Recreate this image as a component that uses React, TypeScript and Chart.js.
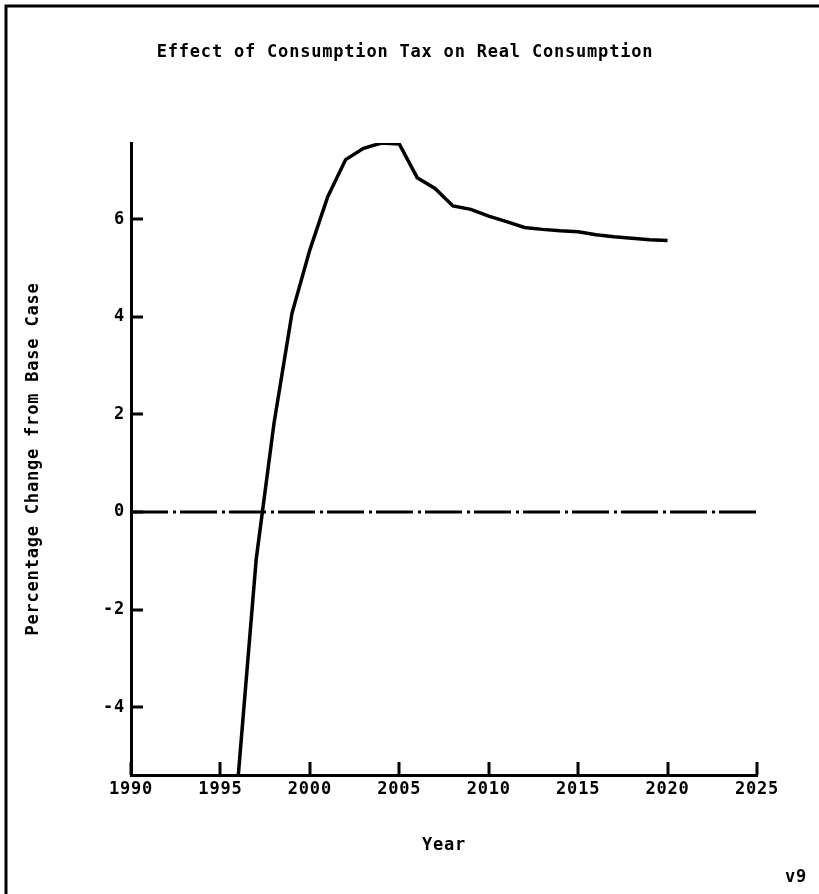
import { useEffect, useRef } from "react";
import { Chart, registerables } from "chart.js";

Chart.register(...registerables);

// Simulated path of real consumption, percent change from the base case
const years = [
  1996, 1997, 1998, 1999, 2000, 2001, 2002, 2003, 2004, 2005, 2006, 2007, 2008,
  2009, 2010, 2011, 2012, 2013, 2014, 2015, 2016, 2017, 2018, 2019, 2020,
];
const consumptionChange = [
  -5.39, -0.97, 1.83, 4.07, 5.37, 6.46, 7.22, 7.45, 7.56, 7.54, 6.85, 6.63, 6.27,
  6.2, 6.06, 5.95, 5.83, 5.79, 5.76, 5.74, 5.68, 5.64, 5.61, 5.58, 5.56,
];

// Reference line at zero across the full year range
const baselineYears = [1990, 2025];
const baselineValues = [0, 0];

const xTicks = [1990, 1995, 2000, 2005, 2010, 2015, 2020, 2025];
const yTicks = [-4, -2, 0, 2, 4, 6];

const titleText = "Effect of Consumption Tax on Real Consumption";
const xTitle = "Year";
const yTitle = "Percentage Change from Base Case";
const versionTag = "v9";

const FAMILY = "'DejaVu Sans Mono', 'Liberation Mono', monospace";
const SPACING = "0.8px";
const textFont = { family: FAMILY, size: 17, weight: "bold" as const };

// Wide plotter-style lettering
const spacingPlugin = {
  id: "letterSpacing",
  beforeLayout(chart: Chart) {
    (chart.ctx as any).letterSpacing = SPACING;
  },
  beforeDraw(chart: Chart) {
    (chart.ctx as any).letterSpacing = SPACING;
  },
};

// Inward tick marks, page frame and version tag
const decorPlugin = {
  id: "decor",
  afterDraw(chart: Chart) {
    const { ctx, chartArea } = chart;
    const x = chart.scales.x;
    const y = chart.scales.y;
    ctx.save();
    ctx.strokeStyle = "#000";
    ctx.lineCap = "butt";
    ctx.lineWidth = 3;
    for (const t of y.ticks) {
      const py = Math.round(y.getPixelForValue(t.value));
      ctx.beginPath();
      ctx.moveTo(chartArea.left, py);
      ctx.lineTo(chartArea.left + 12, py);
      ctx.stroke();
    }
    for (const t of x.ticks) {
      const px = Math.round(x.getPixelForValue(t.value));
      ctx.beginPath();
      ctx.moveTo(px, chartArea.bottom);
      ctx.lineTo(px, chartArea.bottom - 13);
      ctx.stroke();
    }
    // frame along the top and left page edges
    ctx.beginPath();
    ctx.moveTo(6, chart.height);
    ctx.lineTo(6, 6);
    ctx.lineTo(chart.width, 6);
    ctx.stroke();

    ctx.fillStyle = "#000";
    (ctx as any).letterSpacing = SPACING;
    ctx.font = `bold 17px ${FAMILY}`;
    ctx.textAlign = "right";
    ctx.textBaseline = "middle";
    ctx.fillText(versionTag, 807, 878);
    ctx.restore();
  },
};

export default function App() {
  const canvasRef = useRef<HTMLCanvasElement | null>(null);

  useEffect(() => {
    const canvas = canvasRef.current;
    if (!canvas) return;

    const chart = new Chart(canvas, {
      type: "line",
      data: {
        datasets: [
          {
            label: "Real consumption",
            data: years.map((yr, i) => ({ x: yr, y: consumptionChange[i] })),
            borderColor: "#000",
            borderWidth: 3.5,
            pointRadius: 0,
            tension: 0,
            fill: false,
          },
          {
            label: "Base case",
            data: baselineYears.map((yr, i) => ({ x: yr, y: baselineValues[i] })),
            borderColor: "#000",
            borderWidth: 3,
            borderDash: [37, 5, 3, 4],
            borderCapStyle: "butt",
            pointRadius: 0,
            fill: false,
          },
        ],
      },
      options: {
        responsive: false,
        animation: false,
        events: [],
        layout: { padding: { left: 0, right: 9, top: 0, bottom: 0 } },
        plugins: {
          legend: { display: false },
          tooltip: { enabled: false },
          title: {
            display: true,
            text: titleText,
            color: "#000",
            font: textFont,
            padding: { top: 42.8, bottom: 79.8 },
          },
        },
        scales: {
          x: {
            type: "linear",
            min: xTicks[0],
            max: xTicks[xTicks.length - 1],
            afterBuildTicks: (s: any) => {
              s.ticks = xTicks.map((v) => ({ value: v }));
            },
            afterFit: (s: any) => {
              s.height = 119;
            },
            grid: { display: false, drawTicks: false },
            border: { display: true, color: "#000", width: 3 },
            ticks: {
              color: "#000",
              font: textFont,
              padding: 4,
              maxRotation: 0,
              autoSkip: false,
              callback: (v: any) => String(v),
            },
            title: {
              display: true,
              text: xTitle,
              color: "#000",
              font: textFont,
              padding: { top: 0, bottom: 37.8 },
            },
          },
          y: {
            type: "linear",
            position: "left",
            min: Math.min(...consumptionChange),
            max: Math.max(...consumptionChange),
            afterBuildTicks: (s: any) => {
              s.ticks = yTicks.map((v) => ({ value: v }));
            },
            afterFit: (s: any) => {
              s.width = 131;
            },
            grid: { display: false, drawTicks: false },
            border: { display: true, color: "#000", width: 3 },
            ticks: {
              color: "#000",
              font: textFont,
              padding: 6,
              autoSkip: false,
              callback: (v: any) => String(v),
            },
            title: {
              display: true,
              text: yTitle,
              color: "#000",
              font: textFont,
              padding: { top: 23.8, bottom: 0 },
            },
          },
          // empty margin box on the right of the plot
          edge: {
            type: "linear",
            position: "right",
            display: true,
            grid: { display: false, drawTicks: false },
            border: { display: false },
            ticks: { display: false },
            afterFit: (s: any) => {
              s.width = 53;
            },
          },
        },
      },
      plugins: [spacingPlugin, decorPlugin],
    });

    return () => chart.destroy();
  }, []);

  return (
    <div style={{ position: "absolute", left: 0, top: 0, width: 819, height: 894, background: "#fff" }}>
      <canvas ref={canvasRef} width={819} height={894} style={{ display: "block" }} />
    </div>
  );
}
